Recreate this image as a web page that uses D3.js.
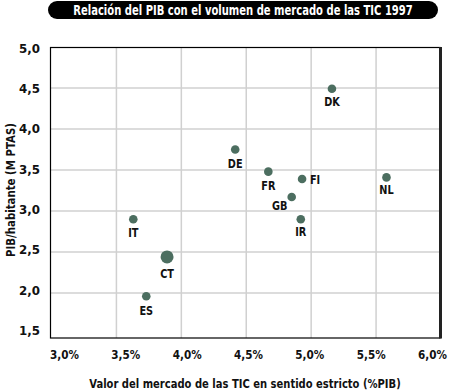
<!DOCTYPE html>
<html><head><meta charset="utf-8">
<script src="https://cdn.jsdelivr.net/npm/d3@7"></script>
<style>
body{margin:0;background:#fff;}
text{font-family:"DejaVu Sans","Liberation Sans",sans-serif;}
</style></head>
<body>
<svg id="c" width="450" height="391"></svg>
<script>
const countries = ["DK","DE","FR","FI","GB","IR","NL","IT","CT","ES"];
const mercado = [5.16, 4.415, 4.67, 4.93, 4.85, 4.92, 5.58, 3.63, 3.89, 3.73];
const pibHab = [4.49, 3.75, 3.48, 3.39, 3.17, 2.90, 3.41, 2.90, 2.44, 1.96];
const xTicks = [3.0, 3.5, 4.0, 4.5, 5.0, 5.5, 6.0];
const yTicks = [1.5, 2.0, 2.5, 3.0, 3.5, 4.0, 4.5, 5.0];
const title = "Relación del PIB con el volumen de mercado de las TIC 1997";
const xTitle = "Valor del mercado de las TIC en sentido estricto (%PIB)";
const yTitle = "PIB/habitante (M PTAS)";

const svg = d3.select("#c");
const x = d3.scaleLinear().domain([3.0, 6.0]).range([51.5, 441]);
const y = d3.scaleLinear().domain([1.5, 5.0]).range([334, 47]);
// tick labels in the original sit slightly inside the gridline span
const xl = d3.scaleLinear().domain([3.0, 6.0]).range([64, 432]);
const yl = d3.scaleLinear().domain([1.5, 5.0]).range([330.5, 48.5]);
const fmt = d => d.toFixed(1).replace(".", ",");

// fit text horizontally to width w by scaling around its anchor
function fitTo(sel, w) {
  sel.each(function() {
    const nat = this.getComputedTextLength();
    const k = w / nat;
    const old = this.getAttribute("transform") || "";
    this.setAttribute("transform", old + " scale(" + k + ",1)");
  });
}
function squeeze(sel, k) {
  sel.each(function() {
    const old = this.getAttribute("transform") || "";
    this.setAttribute("transform", old + " scale(" + k + ",1)");
  });
}

// title pill
svg.append("rect").attr("x", 48).attr("y", 1).attr("width", 390).attr("height", 18)
  .attr("rx", 9).attr("fill", "#000");
fitTo(svg.append("text").attr("transform", "translate(243,15)").attr("text-anchor", "middle")
  .attr("fill", "#fff").attr("font-size", 14).attr("font-weight", "bold").text(title), 340);

// grid
const g = svg.append("g");
g.selectAll(".gx").data(xTicks.slice(1, -1)).join("line")
  .attr("x1", d => x(d)).attr("x2", d => x(d)).attr("y1", 47).attr("y2", 338)
  .attr("stroke", "#d0d0d0").attr("stroke-width", 1.5);
g.selectAll(".gy").data(yTicks.slice(1, -1)).join("line")
  .attr("y1", d => y(d)).attr("y2", d => y(d)).attr("x1", 51).attr("x2", 440)
  .attr("stroke", "#d0d0d0").attr("stroke-width", 1.5);

// frame
svg.append("rect").attr("x", 50.5).attr("y", 47.5).attr("width", 389.5).attr("height", 290.5)
  .attr("fill", "none").attr("stroke", "#000").attr("stroke-width", 1.2);
svg.append("line").attr("x1", 440.5).attr("x2", 440.5).attr("y1", 47).attr("y2", 338.5)
  .attr("stroke", "#222").attr("stroke-width", 3);

// axes labels
const xa = d3.axisBottom(xl).tickValues(xTicks).tickSize(0).tickPadding(0)
  .tickFormat(d => fmt(d) + "%");
const xg = svg.append("g").attr("transform", "translate(0,350)").call(xa);
xg.select(".domain").remove();
xg.selectAll("text").attr("font-size", 12).attr("font-weight", "bold").attr("fill", "#111")
  .attr("font-family", null);
fitTo(xg.selectAll("text"), 29);

const ya = d3.axisLeft(yl).tickValues(yTicks).tickSize(0).tickPadding(0).tickFormat(fmt);
const yg = svg.append("g").attr("transform", "translate(40,0)").call(ya);
yg.select(".domain").remove();
yg.selectAll("text").attr("font-size", 12).attr("font-weight", "bold").attr("fill", "#111")
  .attr("font-family", null);
fitTo(yg.selectAll("text"), 21);

fitTo(svg.append("text").attr("transform", "translate(245,388)").attr("text-anchor", "middle")
  .attr("font-size", 13).attr("font-weight", "bold").attr("fill", "#111").text(xTitle), 312);
fitTo(svg.append("text").attr("transform", "translate(15,190) rotate(-90)").attr("text-anchor", "middle")
  .attr("font-size", 13).attr("font-weight", "bold").attr("fill", "#111").text(yTitle), 134);

// points
const data = countries.map((c, i) => ({c, x: mercado[i], y: pibHab[i]}));
const off = {DK:[0,13], DE:[0,13.5], FR:[0,14], FI:[13,0], GB:[-12,8.5], IR:[0,12.5],
             NL:[0,12.5], IT:[0,13], CT:[0,17], ES:[0,14]};
svg.selectAll(".pt").data(data).join("circle")
  .attr("cx", d => x(d.x)).attr("cy", d => y(d.y))
  .attr("r", d => d.c === "CT" ? 6.5 : 4.3).attr("fill", "#4c6e60");
const lb = svg.selectAll(".lb").data(data).join("text")
  .attr("transform", d => "translate(" + (x(d.x) + off[d.c][0]) + "," + (y(d.y) + off[d.c][1]) + ")")
  .attr("dy", "0.36em").attr("text-anchor", "middle")
  .attr("font-size", 12.5).attr("font-weight", "bold").attr("fill", "#111").text(d => d.c);
squeeze(lb, 0.78);
</script>
</body></html>
